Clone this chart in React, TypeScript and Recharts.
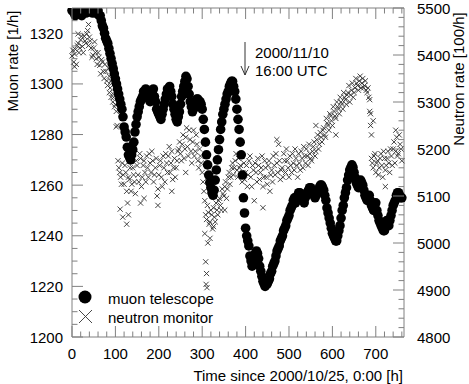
import React from 'react';
import { ScatterChart, Scatter, XAxis, YAxis } from 'recharts';

// muon telescope (two interleaved passes)
const muonHours = [
  0, 5, 10, 15, 20, 25, 30, 35, 40, 45, 50, 55, 60, 65, 70, 75, 80, 85, 90, 95,
  100, 105, 110, 115, 120, 125, 130, 135, 140, 145, 150, 155, 160, 165, 170, 175, 180, 185, 190, 195,
  200, 205, 210, 215, 220, 225, 230, 235, 240, 245, 250, 255, 260, 265, 270, 275, 280, 285, 290, 295,
  300, 305, 310, 315, 320, 325, 330, 335, 340, 345, 350, 355, 360, 365, 370, 375, 380, 385, 390, 395,
  400, 405, 410, 415, 420, 425, 430, 435, 440, 445, 450, 455, 460, 465, 470, 475, 480, 485, 490, 495,
  500, 505, 510, 515, 520, 525, 530, 535, 540, 545, 550, 555, 560, 565, 570, 575, 580, 585, 590, 595,
  600, 605, 610, 615, 620, 625, 630, 635, 640, 645, 650, 655, 660, 665, 670, 675, 680, 685, 690, 695,
  700, 705, 710, 715, 720, 725, 730, 735, 740, 745, 750, 755, 760,
];
const muonRate = [
  1329, 1328, 1330, 1331, 1329, 1328, 1330, 1331, 1329, 1330, 1331, 1328, 1329, 1327, 1323, 1320, 1317, 1314, 1310, 1306,
  1302, 1298, 1294, 1290, 1283, 1279, 1272, 1270, 1274, 1281, 1287, 1291, 1294, 1297, 1298, 1296, 1293, 1297, 1295, 1290,
  1288, 1286, 1290, 1294, 1298, 1299, 1295, 1290, 1286, 1287, 1292, 1297, 1301, 1302, 1296, 1291, 1290, 1293, 1294, 1293,
  1290, 1282, 1272, 1264, 1259, 1256, 1262, 1270, 1278, 1285, 1290, 1294, 1297, 1300, 1301, 1297, 1290, 1282, 1272, 1255,
  1243, 1238, 1232, 1228, 1232, 1234, 1231, 1226, 1222, 1220, 1221, 1223, 1226, 1229, 1232, 1235, 1238, 1240, 1243, 1246,
  1248, 1251, 1254, 1253, 1256, 1257, 1255, 1253, 1256, 1258, 1259, 1257, 1255, 1257, 1259, 1260, 1258, 1254, 1249, 1245,
  1241, 1239, 1238, 1242, 1247, 1252, 1257, 1262, 1266, 1268, 1265, 1261, 1259, 1262, 1260, 1256, 1254, 1256, 1252, 1250,
  1253, 1248, 1245, 1243, 1242, 1246, 1244, 1248, 1252, 1254, 1257, 1256, 1255,
];
const muonHours2 = [
  2.5, 7.5, 12.5, 17.5, 22.5, 27.5, 32.5, 37.5, 42.5, 47.5, 52.5, 57.5, 62.5, 67.5, 72.5, 77.5, 82.5, 87.5, 92.5, 97.5,
  102.5, 107.5, 112.5, 117.5, 122.5, 127.5, 132.5, 137.5, 142.5, 147.5, 152.5, 157.5, 162.5, 167.5, 172.5, 177.5, 182.5, 187.5, 192.5, 197.5,
  202.5, 207.5, 212.5, 217.5, 222.5, 227.5, 232.5, 237.5, 242.5, 247.5, 252.5, 257.5, 262.5, 267.5, 272.5, 277.5, 282.5, 287.5, 292.5, 297.5,
  302.5, 307.5, 312.5, 317.5, 322.5, 327.5, 332.5, 337.5, 342.5, 347.5, 352.5, 357.5, 362.5, 367.5, 372.5, 377.5, 382.5, 387.5, 392.5, 397.5,
  402.5, 407.5, 412.5, 417.5, 422.5, 427.5, 432.5, 437.5, 442.5, 447.5, 452.5, 457.5, 462.5, 467.5, 472.5, 477.5, 482.5, 487.5, 492.5, 497.5,
  502.5, 507.5, 512.5, 517.5, 522.5, 527.5, 532.5, 537.5, 542.5, 547.5, 552.5, 557.5, 562.5, 567.5, 572.5, 577.5, 582.5, 587.5, 592.5, 597.5,
  602.5, 607.5, 612.5, 617.5, 622.5, 627.5, 632.5, 637.5, 642.5, 647.5, 652.5, 657.5, 662.5, 667.5, 672.5, 677.5, 682.5, 687.5, 692.5, 697.5,
  702.5, 707.5, 712.5, 717.5, 722.5, 727.5, 732.5, 737.5, 742.5, 747.5, 752.5, 757.5,
];
const muonRate2 = [
  1330, 1327, 1329, 1330, 1327, 1330, 1328, 1330, 1331, 1328, 1329, 1330, 1327, 1325, 1322, 1318, 1316, 1312, 1308, 1304,
  1300, 1296, 1292, 1287, 1281, 1275, 1271, 1272, 1277, 1284, 1289, 1293, 1295, 1296, 1297, 1294, 1295, 1298, 1293, 1289,
  1287, 1288, 1292, 1296, 1297, 1297, 1292, 1288, 1285, 1289, 1295, 1299, 1303, 1299, 1293, 1289, 1291, 1294, 1292, 1292,
  1286, 1277, 1268, 1261, 1257, 1258, 1266, 1274, 1282, 1288, 1292, 1296, 1299, 1301, 1299, 1294, 1286, 1277, 1264, 1249,
  1240, 1236, 1230, 1230, 1233, 1233, 1228, 1224, 1221, 1221, 1222, 1225, 1228, 1230, 1234, 1236, 1239, 1242, 1244, 1247,
  1250, 1252, 1255, 1254, 1257, 1256, 1254, 1255, 1257, 1259, 1258, 1256, 1256, 1258, 1260, 1259, 1256, 1251, 1247, 1243,
  1240, 1238, 1240, 1244, 1250, 1255, 1259, 1264, 1267, 1267, 1263, 1260, 1260, 1261, 1258, 1255, 1255, 1254, 1251, 1252,
  1250, 1246, 1244, 1242, 1244, 1245, 1246, 1250, 1253, 1256, 1257, 1255,
];

// neutron monitor (two interleaved passes)
const neutronHours = [
  0, 4, 8, 12, 16, 20, 24, 28, 32, 36, 40, 44, 48, 52, 56, 60, 64, 68, 72, 76,
  80, 84, 88, 92, 96, 100, 104, 108, 112, 116, 120, 124, 128, 132, 136, 140, 144, 148, 152, 156,
  160, 164, 168, 172, 176, 180, 184, 188, 192, 196, 200, 204, 208, 212, 216, 220, 224, 228, 232, 236,
  240, 244, 248, 252, 256, 260, 264, 268, 272, 276, 280, 284, 288, 292, 296, 300, 304, 308, 312, 316,
  320, 324, 328, 332, 336, 340, 344, 348, 352, 356, 360, 364, 368, 372, 376, 380, 384, 388, 392, 396,
  400, 404, 408, 412, 416, 420, 424, 428, 432, 436, 440, 444, 448, 452, 456, 460, 464, 468, 472, 476,
  480, 484, 488, 492, 496, 500, 504, 508, 512, 516, 520, 524, 528, 532, 536, 540, 544, 548, 552, 556,
  560, 564, 568, 572, 576, 580, 584, 588, 592, 596, 600, 604, 608, 612, 616, 620, 624, 628, 632, 636,
  640, 644, 648, 652, 656, 660, 664, 668, 672, 676, 680, 684, 688, 692, 696, 700, 704, 708, 712, 716,
  720, 724, 728, 732, 736, 740, 744, 748, 752, 756, 760,
];
const neutronRate = [
  5398, 5385, 5412, 5420, 5405, 5432, 5418, 5440, 5425, 5452, 5438, 5415, 5400, 5428, 5392, 5405, 5378, 5390, 5365, 5380,
  5345, 5372, 5330, 5340, 5310, 5295, 5250, 5160, 5140, 5170, 5125, 5150, 5085, 5135, 5110, 5160, 5130, 5175, 5145, 5190,
  5120, 5165, 5150, 5185, 5140, 5170, 5195, 5130, 5160, 5100, 5145, 5175, 5120, 5160, 5190, 5150, 5205, 5170, 5135, 5180,
  5160, 5195, 5215, 5175, 5230, 5200, 5245, 5185, 5220, 5170, 5240, 5195, 5210, 5160, 5185, 5150, 5110, 5060, 5080, 5040,
  5070, 5030, 5055, 5085, 5060, 5095, 5070, 5105, 5120, 5095, 5140, 5125, 5160, 5145, 5175, 5155, 5180, 5165, 5130, 5170,
  5150, 5120, 5175, 5140, 5165, 5090, 5150, 5180, 5135, 5160, 5120, 5175, 5140, 5165, 5110, 5155, 5185, 5145, 5170, 5210,
  5135, 5160, 5190, 5150, 5175, 5140, 5165, 5190, 5155, 5180, 5140, 5170, 5195, 5160, 5185, 5200, 5165, 5190, 5175, 5205,
  5185, 5220, 5200, 5235, 5215, 5245, 5225, 5255, 5240, 5270, 5250, 5280, 5265, 5290, 5275, 5300, 5285, 5310, 5295, 5320,
  5300, 5325, 5310, 5330, 5340, 5325, 5355, 5340, 5330, 5345, 5320, 5310, 5250, 5170, 5185, 5150, 5175, 5160, 5190, 5140,
  5180, 5165, 5195, 5150, 5185, 5200, 5170, 5225, 5190, 5210, 5175,
];
const neutronHours2 = [
  2, 6, 10, 14, 18, 22, 26, 30, 34, 38, 42, 46, 50, 54, 58, 62, 66, 70, 74, 78,
  82, 86, 90, 94, 98, 102, 106, 110, 114, 118, 122, 126, 130, 134, 138, 142, 146, 150, 154, 158,
  162, 166, 170, 174, 178, 182, 186, 190, 194, 198, 202, 206, 210, 214, 218, 222, 226, 230, 234, 238,
  242, 246, 250, 254, 258, 262, 266, 270, 274, 278, 282, 286, 290, 294, 298, 302, 306, 310, 314, 318,
  322, 326, 330, 334, 338, 342, 346, 350, 354, 358, 362, 366, 370, 374, 378, 382, 386, 390, 394, 398,
  402, 406, 410, 414, 418, 422, 426, 430, 434, 438, 442, 446, 450, 454, 458, 462, 466, 470, 474, 478,
  482, 486, 490, 494, 498, 502, 506, 510, 514, 518, 522, 526, 530, 534, 538, 542, 546, 550, 554, 558,
  562, 566, 570, 574, 578, 582, 586, 590, 594, 598, 602, 606, 610, 614, 618, 622, 626, 630, 634, 638,
  642, 646, 650, 654, 658, 662, 666, 670, 674, 678, 682, 686, 690, 694, 698, 702, 706, 710, 714, 718,
  722, 726, 730, 734, 738, 742, 746, 750, 754, 758,
];
const neutronRate2 = [
  5410, 5402, 5380, 5425, 5415, 5440, 5405, 5430, 5445, 5420, 5430, 5395, 5415, 5405, 5380, 5395, 5360, 5385, 5350, 5365,
  5335, 5355, 5310, 5300, 5290, 5280, 5175, 5150, 5125, 5145, 5165, 5110, 5140, 5160, 5125, 5145, 5105, 5165, 5130, 5180,
  5140, 5175, 5130, 5160, 5190, 5150, 5175, 5145, 5180, 5115, 5165, 5140, 5185, 5130, 5170, 5185, 5150, 5195, 5160, 5140,
  5175, 5200, 5190, 5210, 5180, 5225, 5205, 5240, 5195, 5215, 5185, 5230, 5175, 5200, 5170, 5130, 5090, 5050, 5065, 5045,
  5060, 5075, 5045, 5070, 5090, 5080, 5115, 5100, 5130, 5115, 5150, 5140, 5170, 5160, 5190, 5140, 5160, 5185, 5150, 5135,
  5165, 5145, 5185, 5120, 5155, 5170, 5130, 5165, 5150, 5185, 5140, 5160, 5125, 5175, 5145, 5130, 5165, 5190, 5150, 5175,
  5155, 5140, 5175, 5200, 5160, 5185, 5150, 5170, 5200, 5165, 5190, 5155, 5180, 5205, 5170, 5185, 5210, 5180, 5195, 5215,
  5195, 5230, 5210, 5225, 5240, 5230, 5265, 5250, 5275, 5260, 5290, 5270, 5300, 5285, 5310, 5295, 5320, 5305, 5315, 5335,
  5315, 5340, 5320, 5350, 5335, 5345, 5330, 5350, 5335, 5325, 5330, 5305, 5180, 5160, 5190, 5170, 5145, 5180, 5165, 5195,
  5155, 5180, 5170, 5200, 5165, 5215, 5195, 5185, 5230, 5200,
];
// stray neutron readings away from the main band
const neutronStrayHours = [
  6, 14, 38, 86, 90, 94, 102, 111, 117, 126, 130, 158, 166, 198, 230, 262, 306, 308, 309, 310,
  311, 313, 318, 326, 352, 440, 472, 562, 608, 686, 688, 690, 694, 722, 746,
];
const neutronStray = [
  5375, 5445, 5465, 5320, 5345, 5318, 5247, 5072, 5055, 5040, 5060, 5085, 5095, 5080, 5110, 5150, 5020, 4960, 4912, 4935,
  4905, 5000, 5010, 5035, 5070, 5075, 5220, 5250, 5230, 5280, 5275, 5230, 5260, 5120, 5240,
];

const timeTicks = [
  0, 20, 40, 60, 80, 100, 120, 140, 160, 180, 200, 220, 240, 260, 280, 300, 320, 340, 360, 380,
  400, 420, 440, 460, 480, 500, 520, 540, 560, 580, 600, 620, 640, 660, 680, 700, 720, 740, 760,
];
const timeLabels = [0, 100, 200, 300, 400, 500, 600, 700];
const muonTicks = [
  1200, 1205, 1210, 1215, 1220, 1225, 1230, 1235, 1240, 1245, 1250, 1255, 1260, 1265,
  1270, 1275, 1280, 1285, 1290, 1295, 1300, 1305, 1310, 1315, 1320, 1325,
];
const muonLabels = [1200, 1220, 1240, 1260, 1280, 1300, 1320];
const neutronTicks = [
  4800, 4820, 4840, 4860, 4880, 4900, 4920, 4940, 4960, 4980, 5000, 5020, 5040, 5060, 5080, 5100, 5120, 5140,
  5160, 5180, 5200, 5220, 5240, 5260, 5280, 5300, 5320, 5340, 5360, 5380, 5400, 5420, 5440, 5460, 5480, 5500,
];
const neutronLabels = [4800, 4900, 5000, 5100, 5200, 5300, 5400, 5500];

const pairs = (hours: number[], vals: number[], key: string) =>
  hours.map((t, i) => ({ t, [key]: vals[i] }));

const muonData = [...pairs(muonHours, muonRate, 'muon'), ...pairs(muonHours2, muonRate2, 'muon')];
const neutronData = [
  ...pairs(neutronHours, neutronRate, 'neutron'),
  ...pairs(neutronHours2, neutronRate2, 'neutron'),
  ...pairs(neutronStrayHours, neutronStray, 'neutron'),
];

const W = 469;
const H = 384;
const TOP = 8;
const PLOT_H = 329;
const GRAY = '#808080';
const FONT = '"Liberation Sans", Arial, Helvetica, sans-serif';
const FS = 15;
const MAJOR = 11;
const MINOR = 5.5;

const LeftTick = ({ x, y, payload }: any) => {
  const major = muonLabels.includes(payload.value);
  return (
    <g>
      <line x1={x} x2={x + (major ? MAJOR : MINOR)} y1={y} y2={y} stroke={GRAY} />
      {major && (
        <text x={x - 9} y={y} textAnchor="end" dominantBaseline="central" fontFamily={FONT} fontSize={FS} fill="#000">
          {payload.value}
        </text>
      )}
    </g>
  );
};

const RightTick = ({ x, y, payload }: any) => {
  const major = neutronLabels.includes(payload.value);
  return (
    <g>
      <line x1={x} x2={x - (major ? MAJOR : MINOR)} y1={y} y2={y} stroke={GRAY} />
      {major && (
        <text x={x + 13} y={y} textAnchor="start" dominantBaseline="central" fontFamily={FONT} fontSize={FS} fill="#000">
          {payload.value}
        </text>
      )}
    </g>
  );
};

const BottomTick = ({ x, y, payload }: any) => {
  const major = timeLabels.includes(payload.value);
  const len = major ? MAJOR : MINOR;
  return (
    <g>
      <line x1={x} x2={x} y1={y} y2={y - len} stroke={GRAY} />
      <line x1={x} x2={x} y1={y - PLOT_H} y2={y - PLOT_H + len} stroke={GRAY} />
      {major && (
        <text x={x} y={y + 16} textAnchor="middle" dominantBaseline="central" fontFamily={FONT} fontSize={FS} fill="#000">
          {payload.value}
        </text>
      )}
    </g>
  );
};

const Dot = ({ cx, cy }: any) => <circle cx={cx} cy={cy} r={4.8} fill="#000" />;

const Cross = ({ cx, cy }: any) => (
  <path
    d={`M${cx - 2.6},${cy - 2.6}L${cx + 2.6},${cy + 2.6}M${cx - 2.6},${cy + 2.6}L${cx + 2.6},${cy - 2.6}`}
    stroke="#303030"
    strokeWidth={0.9}
    fill="none"
  />
);

export default function App() {
  return (
    <div style={{ position: 'absolute', left: 0, top: 0, width: W, height: H, background: '#fff' }}>
      <ScatterChart width={W} height={H} margin={{ top: TOP, right: 0, bottom: 0, left: 0 }}>
        <XAxis
          dataKey="t"
          type="number"
          domain={[0, 765]}
          ticks={timeTicks}
          interval={0}
          height={47}
          tickSize={0}
          tickMargin={0}
          tickLine={false}
          axisLine={{ stroke: GRAY }}
          tick={<BottomTick />}
        />
        <YAxis
          yAxisId="muon"
          dataKey="muon"
          type="number"
          domain={[1200, 1330]}
          allowDataOverflow
          ticks={muonTicks}
          interval={0}
          width={72}
          tickSize={0}
          tickMargin={0}
          tickLine={false}
          axisLine={{ stroke: GRAY }}
          tick={<LeftTick />}
        />
        <YAxis
          yAxisId="neutron"
          dataKey="neutron"
          orientation="right"
          type="number"
          domain={[4800, 5500]}
          allowDataOverflow
          ticks={neutronTicks}
          interval={0}
          width={65}
          tickSize={0}
          tickMargin={0}
          tickLine={false}
          axisLine={{ stroke: GRAY }}
          tick={<RightTick />}
        />
        <Scatter yAxisId="neutron" data={neutronData} shape={<Cross />} isAnimationActive={false} />
        <Scatter yAxisId="muon" data={muonData} shape={<Dot />} isAnimationActive={false} />
      </ScatterChart>
      <svg
        width={W}
        height={H}
        style={{ position: 'absolute', left: 0, top: 0, pointerEvents: 'none' }}
        fontFamily={FONT}
        fontSize={FS}
      >
        <line x1={72} x2={404} y1={TOP} y2={TOP} stroke={GRAY} />
        <text transform="translate(12,61) rotate(-90)" textAnchor="middle" dominantBaseline="central">
          Muon rate [1/h]
        </text>
        <text transform="translate(458,79) rotate(-90)" textAnchor="middle" dominantBaseline="central">
          Neutron rate [100/h]
        </text>
        <text x={403} y={375} textAnchor="end" dominantBaseline="central">
          Time since 2000/10/25, 0:00 [h]
        </text>
        <line x1={245} x2={245} y1={42} y2={75} stroke="#333" />
        <path d="M241,66L245,75L249,66" stroke="#333" fill="none" />
        <text x={255} y={52} dominantBaseline="central">2000/11/10</text>
        <text x={255} y={70} dominantBaseline="central">16:00 UTC</text>
        <circle cx={85} cy={297} r={6.5} fill="#000" />
        <text x={108} y={298} dominantBaseline="central">muon telescope</text>
        <path d="M79,310L92,323M79,323L92,310" stroke="#333" strokeWidth={0.9} fill="none" />
        <text x={108} y={317} dominantBaseline="central">neutron monitor</text>
      </svg>
    </div>
  );
}
